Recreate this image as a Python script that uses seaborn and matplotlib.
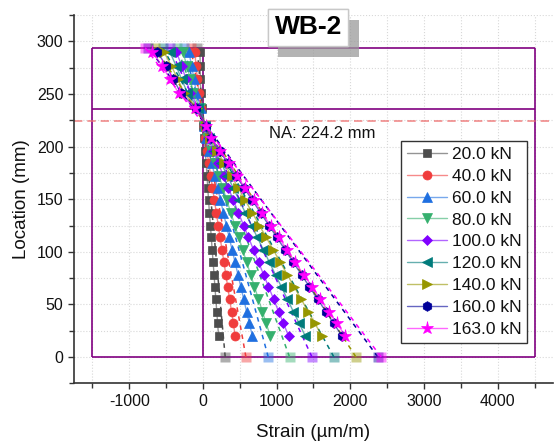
import matplotlib
matplotlib.use("Agg")
import matplotlib.pyplot as plt
import matplotlib.patheffects as pe
from matplotlib.colors import to_rgba
from matplotlib.ticker import MultipleLocator
import seaborn as sns

# ============================
# DATA
# ============================
loads = ["20.0 kN", "40.0 kN", "60.0 kN", "80.0 kN", "100.0 kN",
         "120.0 kN", "140.0 kN", "160.0 kN", "163.0 kN"]
colors = ["#4d4d4d", "#f03c3c", "#1f6fe0", "#35b06e", "#8000ff",
          "#007b7b", "#969600", "#000099", "#ff00ff"]
markers = ["s", "o", "^", "v", "D", "<", ">", "h", "*"]
marker_sizes = [6, 6.5, 7, 7, 5.5, 7, 7, 7, 9.5]

# gauge locations (mm), bottom of web up to top flange
location = [20, 32, 43, 55, 67, 78, 90, 102, 114, 125, 137, 149, 161, 172,
            184, 196, 208, 220, 237, 251, 264, 277, 290]

strain_20 = [212, 199, 188, 175, 162, 151, 138, 125, 113, 101, 88, 76, 65, 55,
             45, 30, 15, 5, -10, -30, -35, -38, -40]
strain_40 = [438, 412, 388, 361, 335, 311, 285, 258, 232, 208, 182, 155, 129, 105,
             79, 53, 26, 10, -20, -55, -75, -95, -110]
strain_60 = [670, 630, 593, 553, 513, 476, 436, 395, 355, 318, 278, 238, 198, 161,
             121, 80, 40, 15, -30, -90, -120, -155, -190]
strain_80 = [913, 858, 808, 753, 698, 648, 593, 539, 484, 434, 379, 324, 269, 219,
             164, 110, 55, 20, -45, -130, -170, -220, -270]
strain_100 = [1162, 1092, 1028, 959, 889, 825, 755, 686, 616, 552, 482, 413, 343, 279,
              209, 139, 70, 25, -60, -170, -230, -290, -360]
strain_120 = [1388, 1305, 1228, 1145, 1062, 985, 902, 819, 736, 659, 576, 493, 409, 333,
              250, 167, 83, 30, -70, -210, -290, -365, -450]
strain_140 = [1615, 1518, 1429, 1332, 1235, 1147, 1050, 953, 856, 767, 670, 573, 476, 388,
              291, 194, 97, 35, -85, -255, -340, -430, -530]
strain_160 = [1886, 1773, 1669, 1556, 1443, 1339, 1226, 1113, 1000, 896, 783, 670, 556, 453,
              339, 226, 113, 40, -100, -300, -400, -500, -620]
strain_163 = [1931, 1818, 1704, 1592, 1479, 1370, 1252, 1140, 1026, 917, 800, 686, 570, 463,
              348, 232, 116, 45, -110, -331, -444, -557, -690]
strains = [strain_20, strain_40, strain_60, strain_80, strain_100,
           strain_120, strain_140, strain_160, strain_163]

# linear fit end points (bottom at 0 mm, top at 294 mm)
fit_location = [0, 294]
fit_bottom = [302, 583, 886, 1175, 1479, 1777, 2076, 2374, 2419]
fit_top = [-80, -165, -260, -350, -450, -545, -645, -740, -783]

na_location = 224.2
section_left, section_right = -1500, 4500
section_top, flange_y = 294, 236

# ============================
# PLOT
# ============================
sns.set_theme(style="ticks")
plt.rcParams["font.family"] = ["Liberation Sans", "DejaVu Sans"]
plt.rcParams["axes.unicode_minus"] = False

fig = plt.figure(figsize=(5.55, 4.45), dpi=100)
ax = fig.add_axes([0.1333, 0.1387, 0.8631, 0.8273])

# cross-section outline
ax.hlines([0, flange_y, section_top], section_left, section_right, color="#800080", lw=1.2, zorder=2)
ax.vlines([section_left, 0, section_right], 0, section_top, color="#800080", lw=1.2, zorder=2)

# neutral axis
ax.axhline(na_location, color="#ee6f6f", ls=(0, (5, 3)), lw=1.2, alpha=0.8, zorder=2)
ax.text(1620, 212.5, "NA: 224.2 mm", ha="center", va="center", fontsize=12, color="#111111")

# dashed fit lines with pale end squares
for i, c in enumerate(colors):
    sns.lineplot(x=[fit_bottom[i], fit_top[i]], y=fit_location, sort=False, estimator=None,
                 color=c, linestyle=(0, (3, 3)), linewidth=1.1, marker="s", markersize=7,
                 markerfacecolor=to_rgba(c, 0.45), markeredgecolor="none", ax=ax, zorder=3)

# measured strain profiles
handles = []
for i, c in enumerate(colors):
    sns.lineplot(x=strains[i], y=location, sort=False, estimator=None, color=c,
                 marker=markers[i], markersize=marker_sizes[i], markerfacecolor=c,
                 markeredgecolor=c, markeredgewidth=0.5, linewidth=1.0, ax=ax, zorder=4)
    line = ax.lines[-1]
    line.set_color(to_rgba(c, 0.6))
    line.set_label(loads[i])
    handles.append(line)

ax.set_xlim(-1750, 4750)
ax.set_ylim(-25, 325)
ax.xaxis.set_major_locator(MultipleLocator(1000))
ax.xaxis.set_minor_locator(MultipleLocator(500))
ax.yaxis.set_major_locator(MultipleLocator(50))
ax.yaxis.set_minor_locator(MultipleLocator(25))
ax.set_xticks([-1000, 0, 1000, 2000, 3000, 4000])
ax.grid(which="both", color="#d8d8d8", linestyle=":", linewidth=0.8)
ax.set_axisbelow(True)

sns.despine(ax=ax)
for side in ["left", "bottom"]:
    ax.spines[side].set_color("#333333")
    ax.spines[side].set_linewidth(1.2)
ax.tick_params(which="both", direction="out", color="#333333", width=1, labelsize=11.5,
               labelcolor="#111111")
ax.tick_params(which="major", length=4)
ax.tick_params(which="minor", length=3.5)

ax.set_xlabel("Strain (µm/m)", fontsize=13.5, color="#111111", labelpad=11)
ax.set_ylabel("Location (mm)", fontsize=13.5, color="#111111", labelpad=5)

leg = ax.legend(handles=handles, loc="upper left", bbox_to_anchor=(0.683, 0.658),
                fontsize=12.5, frameon=True, fancybox=False, framealpha=1,
                edgecolor="#333333", borderaxespad=0, borderpad=0.32,
                labelspacing=0.39, handlelength=2.3, handletextpad=0.3)
leg.get_frame().set_linewidth(1.0)
for txt in leg.get_texts():
    txt.set_color("#111111")

# specimen tag with drop shadow
tag = ax.text(0.489, 0.967, "WB-2", transform=ax.transAxes, ha="center", va="center",
              fontsize=19, fontweight="bold", color="black", zorder=10, clip_on=False,
              bbox=dict(boxstyle="square,pad=0.25", fc="white", ec="#c8c8c8", lw=1))
tag.get_bbox_patch().set_path_effects([
    pe.withSimplePatchShadow(offset=(7.5, -8), shadow_rgbFace="#9a9a9a", alpha=0.75),
    pe.Normal()])

fig.savefig("out.png", dpi=100)
